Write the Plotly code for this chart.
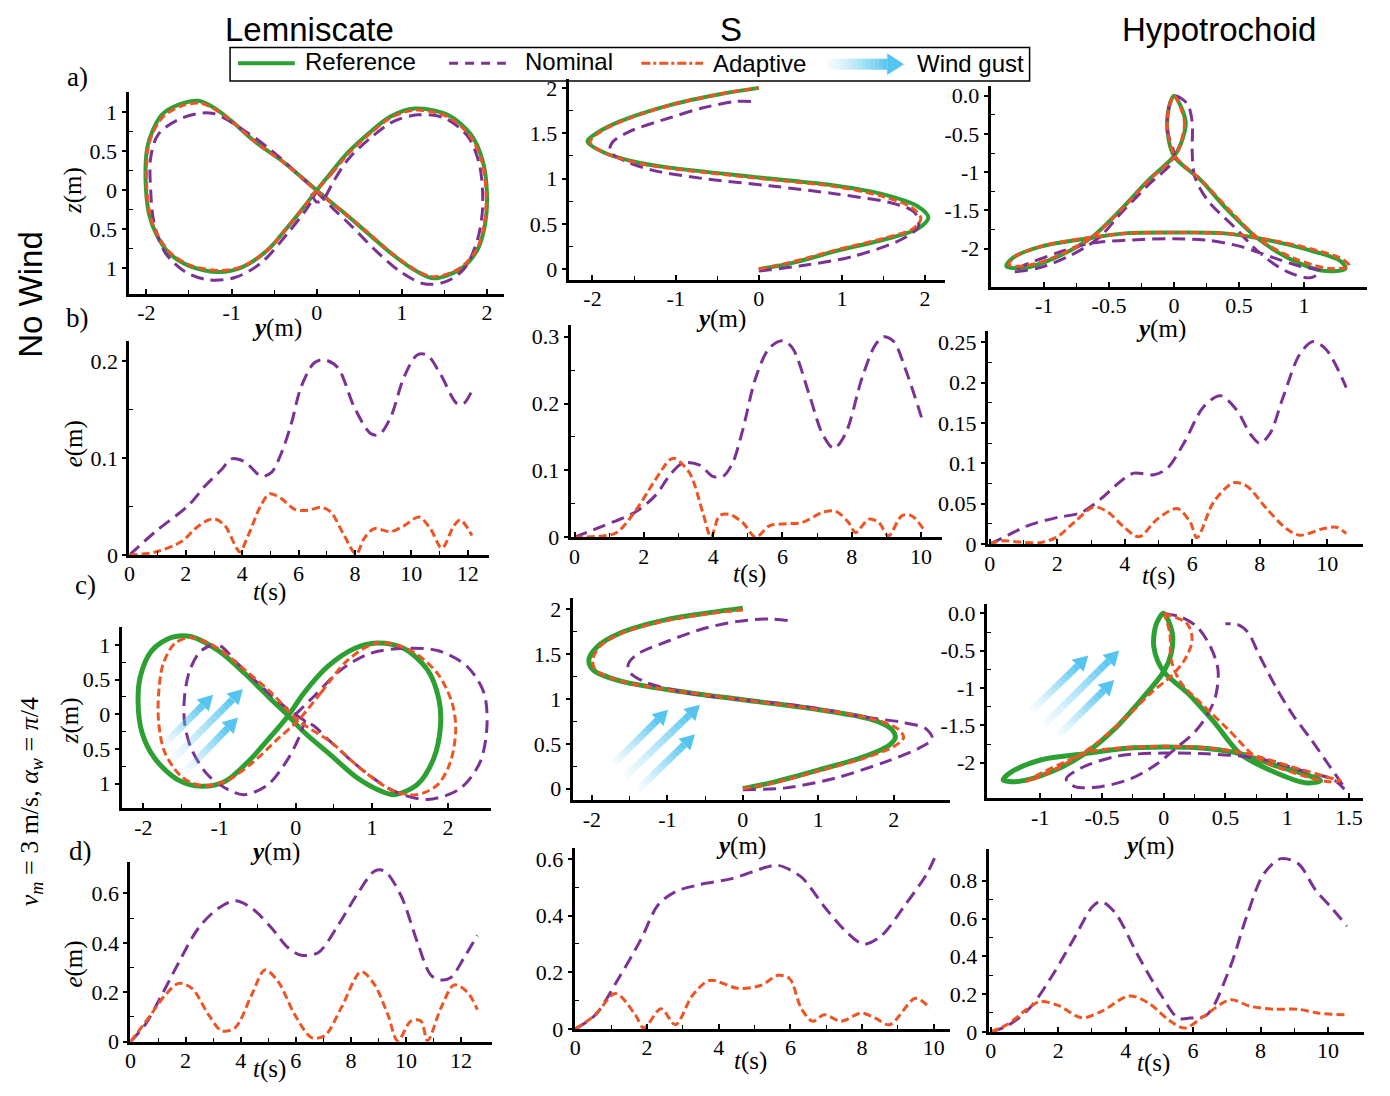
import math
import plotly.graph_objects as go

W, H = 1390, 1096
OFF = 8  # the page body margin shifts the figure by 8 px
SERIF = "Liberation Serif"
SANS = "Liberation Sans"
GREEN = "#2CA033"
PURPLE = "#7B3294"
ORANGE = "#EE5522"
BLUE = "79,195,240"

# ---------------- data : row a (no wind, trajectories y/z in m) ----------------
LEM_A_REF_Y = [0, 0.17, 0.37, 0.64, 0.87, 1.15, 1.54, 1.81, 1.95, 2.0, 1.98, 1.89, 1.69, 1.38, 1.19, 0.91, 0.6, 0.29, 0, -0.18, -0.41, -0.73, -1.0, -1.19, -1.39, -1.62, -1.82, -1.93, -1.99, -2.01, -1.97, -1.89, -1.74, -1.5, -1.15, -0.88, -0.57, -0.34, -0.14, 0]
LEM_A_REF_Z = [0, 0.23, 0.49, 0.76, 0.95, 1.05, 0.97, 0.72, 0.38, -0.04, -0.42, -0.76, -1.01, -1.13, -1.05, -0.84, -0.55, -0.26, 0, 0.17, 0.38, 0.63, 0.89, 1.05, 1.15, 1.1, 0.97, 0.76, 0.55, 0.13, -0.3, -0.55, -0.8, -0.97, -1.05, -0.99, -0.76, -0.47, -0.2, 0]
LEM_A_ADA_Y = [0, 0.18, 0.38, 0.65, 0.88, 1.15, 1.53, 1.8, 1.94, 1.99, 1.97, 1.88, 1.68, 1.38, 1.19, 0.91, 0.61, 0.3, 0.01, -0.17, -0.4, -0.72, -0.99, -1.18, -1.37, -1.6, -1.8, -1.92, -1.98, -2.0, -1.96, -1.88, -1.73, -1.49, -1.15, -0.88, -0.57, -0.34, -0.14, 0]
LEM_A_ADA_Z = [0, 0.22, 0.48, 0.75, 0.94, 1.03, 0.95, 0.7, 0.37, -0.05, -0.43, -0.76, -1.0, -1.11, -1.04, -0.83, -0.55, -0.27, -0.02, 0.16, 0.37, 0.62, 0.88, 1.03, 1.12, 1.08, 0.95, 0.75, 0.54, 0.13, -0.3, -0.55, -0.79, -0.96, -1.03, -0.98, -0.76, -0.47, -0.2, 0]
LEM_A_NOM_Y = [-0.06, 0, 0.08, 0.2, 0.37, 0.64, 0.91, 1.19, 1.5, 1.77, 1.91, 1.95, 1.89, 1.73, 1.5, 1.26, 0.99, 0.68, 0.41, 0.17, 0, -0.22, -0.53, -0.84, -1.23, -1.58, -1.86, -1.95, -1.95, -1.91, -1.78, -1.54, -1.27, -0.96, -0.65, -0.34, -0.1, 0]
LEM_A_NOM_Z = [-0.04, -0.15, -0.11, 0.12, 0.4, 0.68, 0.89, 0.97, 0.93, 0.7, 0.34, -0.2, -0.63, -1.01, -1.18, -1.2, -1.05, -0.76, -0.46, -0.21, -0.02, 0.21, 0.51, 0.76, 0.99, 0.93, 0.72, 0.42, 0, -0.42, -0.8, -1.05, -1.15, -1.12, -0.93, -0.55, -0.21, 0]

S_A_REF_Y = [0, 0.41, 0.93, 1.52, 1.92, 2.04, 1.9, 1.52, 0.93, 0.01, -1.07, -1.47, -1.87, -2.06, -1.95, -1.67, -1.07, -0.47, 0]
S_A_REF_Z = [0, 0.07, 0.2, 0.33, 0.45, 0.57, 0.7, 0.82, 0.92, 1.01, 1.12, 1.18, 1.29, 1.41, 1.5, 1.63, 1.81, 1.93, 2.0]
S_A_ADA_Y = [0, 0.4, 0.92, 1.5, 1.86, 1.95, 1.84, 1.5, 0.93, 0.02, -1.05, -1.45, -1.85, -2.03, -1.93, -1.65, -1.06, -0.47, 0]
S_A_ADA_Z = [0, 0.08, 0.21, 0.34, 0.45, 0.56, 0.68, 0.8, 0.91, 1.0, 1.11, 1.17, 1.28, 1.4, 1.5, 1.63, 1.81, 1.93, 2.0]
S_A_NOM_Y = [0, 0.53, 1.13, 1.72, 1.92, 1.88, 1.64, 0.93, 0.13, -0.67, -1.27, -1.6, -1.79, -1.76, -1.55, -1.07, -0.67, -0.27, -0.09]
S_A_NOM_Z = [-0.02, 0.04, 0.14, 0.33, 0.47, 0.62, 0.72, 0.83, 0.92, 1.0, 1.09, 1.19, 1.3, 1.4, 1.52, 1.67, 1.78, 1.85, 1.85]

HYP_A_REF_Y = [0, 0.09, 0.05, 0, -0.2, -0.41, -0.64, -0.89, -1.15, -1.29, -1.24, -1.02, -0.64, -0.38, 0, 0.39, 0.64, 1.02, 1.28, 1.32, 1.15, 0.9, 0.64, 0.41, 0.21, 0, -0.05, -0.04, 0]
HYP_A_REF_Z = [0, -0.34, -0.64, -0.79, -1.11, -1.49, -1.86, -2.1, -2.25, -2.23, -2.12, -1.97, -1.86, -1.8, -1.79, -1.8, -1.86, -2.01, -2.16, -2.26, -2.29, -2.14, -1.86, -1.49, -1.11, -0.79, -0.46, -0.16, 0]
HYP_A_ADA_Y = [0, 0.08, 0.05, 0.01, -0.19, -0.4, -0.63, -0.88, -1.13, -1.27, -1.22, -1.0, -0.63, -0.37, 0, 0.39, 0.66, 1.05, 1.3, 1.35, 1.2, 0.93, 0.66, 0.43, 0.22, 0.01, -0.05, -0.04, 0]
HYP_A_ADA_Z = [0, -0.33, -0.63, -0.79, -1.1, -1.48, -1.85, -2.08, -2.22, -2.21, -2.1, -1.96, -1.85, -1.8, -1.79, -1.8, -1.86, -2.0, -2.14, -2.23, -2.26, -2.13, -1.88, -1.5, -1.12, -0.79, -0.46, -0.16, 0]
HYP_A_NOM_Y = [0, -0.04, -0.05, 0, -0.2, -0.41, -0.58, -0.81, -1.04, -1.24, -1.17, -0.89, -0.64, -0.25, 0, 0.26, 0.51, 0.77, 0.97, 1.13, 1.05, 0.87, 0.67, 0.46, 0.26, 0.16, 0.14, 0.14, 0.1, 0]
HYP_A_NOM_Z = [0, -0.16, -0.46, -0.82, -1.17, -1.54, -1.86, -2.1, -2.25, -2.3, -2.23, -2.05, -1.93, -1.88, -1.87, -1.89, -1.97, -2.12, -2.23, -2.29, -2.38, -2.3, -2.07, -1.71, -1.37, -1.06, -0.72, -0.34, -0.1, 0]

# ---------------- data : row b (no wind, tracking error e(m) vs t(s)) ----------------
LEM_B_NOM_T = [0, 0.92, 2.09, 2.68, 3.27, 3.62, 4.09, 4.68, 5.04, 5.39, 5.74, 6.09, 6.56, 6.92, 7.39, 7.98, 8.56, 8.86, 9.27, 9.74, 10.21, 10.56, 11.04, 11.62, 11.86, 12.15]
LEM_B_NOM_E = [0, 0.024, 0.051, 0.071, 0.088, 0.099, 0.096, 0.081, 0.085, 0.105, 0.135, 0.173, 0.198, 0.201, 0.193, 0.152, 0.125, 0.124, 0.142, 0.183, 0.206, 0.206, 0.186, 0.156, 0.156, 0.169]
LEM_B_ADA_T = [0, 0.92, 1.86, 2.33, 2.8, 3.04, 3.39, 3.8, 3.92, 4.21, 4.68, 4.98, 5.39, 5.86, 6.33, 6.8, 7.15, 7.62, 8.04, 8.33, 8.68, 9.27, 9.74, 10.27, 10.68, 11.09, 11.51, 11.74, 12.15]
LEM_B_ADA_E = [0, 0.003, 0.014, 0.027, 0.036, 0.037, 0.03, 0.007, 0.003, 0.02, 0.052, 0.063, 0.058, 0.047, 0.046, 0.049, 0.044, 0.02, 0.001, 0.017, 0.027, 0.024, 0.03, 0.039, 0.027, 0.007, 0.03, 0.036, 0.02]

S_B_NOM_T = [0, 0.83, 1.79, 2.36, 2.75, 3.13, 3.61, 3.99, 4.28, 4.56, 4.85, 5.23, 5.62, 6.0, 6.29, 6.77, 7.15, 7.48, 7.82, 8.3, 8.68, 8.92, 9.21, 9.54, 10.07]
S_B_NOM_E = [0, 0.017, 0.039, 0.064, 0.093, 0.111, 0.108, 0.091, 0.091, 0.111, 0.16, 0.239, 0.283, 0.294, 0.283, 0.214, 0.155, 0.133, 0.155, 0.239, 0.288, 0.3, 0.293, 0.253, 0.17]
S_B_ADA_T = [0, 0.83, 1.22, 1.79, 2.27, 2.75, 2.89, 3.32, 3.7, 3.94, 4.18, 4.47, 4.85, 5.23, 5.62, 6.1, 6.57, 7.15, 7.53, 7.91, 8.11, 8.49, 8.78, 9.06, 9.44, 9.73, 10.07]
S_B_ADA_E = [0, 0.002, 0.007, 0.042, 0.081, 0.116, 0.118, 0.096, 0.037, 0.0, 0.032, 0.034, 0.022, 0.0, 0.017, 0.02, 0.022, 0.037, 0.039, 0.022, 0.007, 0.027, 0.022, 0.002, 0.032, 0.032, 0.012]

HYP_B_NOM_T = [0, 0.54, 1.13, 2.0, 2.7, 3.29, 3.88, 4.27, 4.86, 5.26, 5.75, 6.33, 6.83, 7.32, 7.71, 8.0, 8.3, 8.69, 9.18, 9.58, 9.97, 10.56]
HYP_B_NOM_E = [0, 0.011, 0.023, 0.033, 0.039, 0.056, 0.078, 0.088, 0.086, 0.094, 0.125, 0.17, 0.184, 0.166, 0.137, 0.125, 0.137, 0.182, 0.235, 0.251, 0.241, 0.194]
HYP_B_ADA_T = [0, 0.34, 1.03, 1.52, 2.0, 2.5, 3.09, 3.49, 3.98, 4.42, 4.96, 5.55, 5.94, 6.14, 6.63, 7.22, 7.61, 8.2, 8.79, 9.18, 9.87, 10.27, 10.56]
HYP_B_ADA_E = [0, 0.004, 0.002, 0.002, 0.009, 0.027, 0.046, 0.04, 0.021, 0.009, 0.031, 0.044, 0.027, 0.008, 0.052, 0.076, 0.072, 0.044, 0.019, 0.011, 0.019, 0.021, 0.013]

# ---------------- data : row c (wind gust, trajectories) ----------------
LEM_C_REF_Y = [-0.1, 0.11, 0.42, 0.77, 1.07, 1.42, 1.73, 1.88, 1.9, 1.81, 1.59, 1.29, 1.12, 0.81, 0.46, 0.11, -0.1, -0.32, -0.67, -1.02, -1.37, -1.63, -1.89, -2.04, -2.07, -2.02, -1.85, -1.54, -1.24, -0.93, -0.63, -0.32, -0.1]
LEM_C_REF_Z = [-0.02, 0.31, 0.69, 0.95, 1.03, 0.95, 0.64, 0.21, -0.17, -0.64, -1.02, -1.16, -1.11, -0.92, -0.59, -0.26, -0.02, 0.21, 0.59, 0.92, 1.12, 1.11, 0.92, 0.55, 0.17, -0.26, -0.64, -0.95, -1.04, -0.97, -0.69, -0.31, -0.02]
LEM_C_ADA_Y = [0.03, 0.33, 0.68, 1.07, 1.51, 1.86, 2.05, 2.1, 2.03, 1.86, 1.59, 1.29, 0.9, 0.46, 0.03, -0.32, -0.67, -1.02, -1.37, -1.59, -1.74, -1.8, -1.8, -1.72, -1.5, -1.24, -0.93, -0.58, -0.24, 0.03]
LEM_C_ADA_Z = [-0.09, 0.31, 0.78, 1.03, 0.92, 0.59, 0.17, -0.21, -0.69, -1.02, -1.16, -1.11, -0.83, -0.4, -0.09, 0.31, 0.64, 0.95, 1.11, 1.02, 0.73, 0.31, -0.12, -0.55, -0.9, -1.03, -0.97, -0.71, -0.36, -0.09]
LEM_C_NOM_Y = [-0.02, 0.24, 0.59, 0.98, 1.38, 1.86, 2.25, 2.47, 2.51, 2.42, 2.16, 1.73, 1.29, 0.85, 0.46, 0.24, 0.13, -0.1, -0.41, -0.76, -1.02, -1.24, -1.39, -1.46, -1.46, -1.37, -1.15, -0.85, -0.67, -0.37, -0.1, 0.07, 0.12]
LEM_C_NOM_Z = [-0.02, 0.26, 0.64, 0.88, 0.95, 0.92, 0.69, 0.31, -0.17, -0.69, -1.07, -1.23, -1.11, -0.78, -0.4, -0.17, -0.1, 0.07, 0.36, 0.73, 1.0, 0.92, 0.64, 0.26, -0.12, -0.5, -0.88, -1.11, -1.16, -1.02, -0.64, -0.26, -0.08]

S_C_REF_Y = [0, 0.44, 1.01, 1.58, 1.93, 2.02, 1.96, 1.67, 1.01, 0, -0.97, -1.63, -1.98, -2.04, -1.93, -1.63, -0.97, -0.44, 0]
S_C_REF_Z = [0, 0.08, 0.21, 0.35, 0.48, 0.57, 0.67, 0.78, 0.88, 0.99, 1.1, 1.2, 1.32, 1.43, 1.58, 1.73, 1.89, 1.96, 2.01]
S_C_ADA_Y = [0, 0.44, 1.01, 1.6, 2.0, 2.13, 2.05, 1.7, 1.02, 0, -0.97, -1.62, -1.95, -1.99, -1.9, -1.61, -0.96, -0.44, 0]
S_C_ADA_Z = [0, 0.07, 0.2, 0.34, 0.47, 0.57, 0.67, 0.78, 0.88, 0.99, 1.1, 1.2, 1.32, 1.43, 1.58, 1.73, 1.88, 1.95, 1.99]
S_C_NOM_Y = [0, 0.57, 1.23, 1.89, 2.33, 2.51, 2.42, 2.11, 1.67, 0.79, 0, -0.75, -1.27, -1.49, -1.52, -1.41, -0.97, -0.53, -0.09, 0.35, 0.62]
S_C_NOM_Z = [-0.01, 0.01, 0.12, 0.3, 0.45, 0.56, 0.67, 0.74, 0.79, 0.92, 0.99, 1.07, 1.18, 1.29, 1.38, 1.49, 1.65, 1.78, 1.86, 1.89, 1.87]

HYP_C_REF_Y = [0, 0.07, 0.06, 0, -0.18, -0.4, -0.64, -0.91, -1.18, -1.3, -1.23, -0.99, -0.64, -0.32, 0, 0.35, 0.62, 0.89, 1.16, 1.27, 1.16, 0.89, 0.62, 0.41, 0.19, 0, -0.08, -0.06, 0]
HYP_C_REF_Z = [0, -0.27, -0.54, -0.78, -1.15, -1.55, -1.88, -2.12, -2.25, -2.23, -2.12, -1.96, -1.88, -1.81, -1.79, -1.81, -1.88, -2.03, -2.16, -2.24, -2.27, -2.12, -1.88, -1.46, -1.06, -0.78, -0.45, -0.14, 0]
HYP_C_ADA_Y = [0, 0.19, 0.23, 0.17, 0.06, -0.1, -0.29, -0.53, -0.72, -0.94, -1.11, -1.04, -0.83, -0.59, -0.32, 0, 0.35, 0.68, 1.03, 1.32, 1.43, 1.32, 1.03, 0.76, 0.52, 0.3, 0.14, 0.06, 0.05, 0.01]
HYP_C_ADA_Z = [0, -0.14, -0.36, -0.62, -0.84, -1.06, -1.37, -1.72, -1.94, -2.14, -2.25, -2.18, -2.01, -1.85, -1.8, -1.78, -1.8, -1.88, -2.05, -2.19, -2.24, -2.25, -2.12, -1.94, -1.55, -1.2, -0.93, -0.62, -0.27, -0.03]
HYP_C_NOM_Y = [0, 0.14, 0.27, 0.38, 0.44, 0.42, 0.35, 0.25, 0.11, -0.05, -0.26, -0.51, -0.72, -0.79, -0.67, -0.37, -0.01, 0.35, 0.76, 1.11, 1.38, 1.47, 1.32, 1.19, 1.05, 0.92, 0.78, 0.68, 0.6, 0.5]
HYP_C_NOM_Z = [0, -0.05, -0.18, -0.45, -0.76, -1.11, -1.37, -1.59, -1.79, -2.01, -2.21, -2.32, -2.32, -2.22, -2.07, -1.91, -1.87, -1.88, -1.94, -2.1, -2.23, -2.36, -1.99, -1.68, -1.37, -1.02, -0.58, -0.25, -0.15, -0.14]

# ---------------- data : row d (wind gust, tracking error) ----------------
LEM_D_NOM_T = [0, 0.54, 1.14, 1.75, 2.47, 3.19, 3.8, 4.4, 5.12, 5.72, 6.2, 6.81, 7.53, 8.25, 8.86, 9.22, 9.82, 10.42, 10.9, 11.27, 11.63, 12.11, 12.59]
LEM_D_NOM_E = [0, 0.07, 0.19, 0.32, 0.46, 0.54, 0.57, 0.54, 0.46, 0.38, 0.35, 0.36, 0.47, 0.6, 0.69, 0.69, 0.59, 0.4, 0.27, 0.25, 0.26, 0.34, 0.43]
LEM_D_ADA_T = [0, 0.66, 1.27, 1.75, 2.23, 2.83, 3.31, 3.8, 4.4, 4.88, 5.36, 5.96, 6.57, 7.05, 7.65, 8.37, 8.86, 9.34, 9.7, 10.18, 10.54, 10.78, 11.27, 11.75, 12.23, 12.59]
LEM_D_ADA_E = [0, 0.097, 0.19, 0.236, 0.216, 0.11, 0.044, 0.057, 0.19, 0.29, 0.243, 0.11, 0.017, 0.024, 0.137, 0.283, 0.23, 0.11, 0.004, 0.084, 0.084, 0.004, 0.137, 0.23, 0.2, 0.13]

S_D_NOM_T = [0, 0.56, 1.2, 1.83, 2.31, 2.79, 3.43, 4.39, 5.34, 5.66, 6.3, 6.94, 7.58, 8.05, 8.53, 9.17, 9.81, 10.05]
S_D_NOM_E = [0, 0.05, 0.177, 0.316, 0.438, 0.484, 0.508, 0.531, 0.571, 0.577, 0.536, 0.432, 0.34, 0.299, 0.328, 0.432, 0.548, 0.612]
S_D_ADA_T = [0, 0.56, 1.12, 1.67, 1.91, 2.39, 2.79, 3.27, 3.75, 4.55, 5.18, 5.66, 5.98, 6.3, 6.62, 6.94, 7.42, 7.97, 8.37, 8.77, 9.49, 9.89]
S_D_ADA_E = [0, 0.05, 0.125, 0.05, 0.003, 0.071, 0.015, 0.119, 0.171, 0.143, 0.154, 0.189, 0.177, 0.073, 0.027, 0.05, 0.027, 0.056, 0.038, 0.015, 0.108, 0.073]

HYP_D_NOM_T = [0, 0.47, 1.15, 1.83, 2.51, 3.02, 3.27, 3.69, 4.37, 5.05, 5.56, 5.9, 6.41, 7.08, 7.59, 8.1, 8.61, 9.12, 9.63, 10.14, 10.56]
HYP_D_NOM_E = [0, 0.03, 0.125, 0.3, 0.508, 0.664, 0.69, 0.63, 0.403, 0.195, 0.073, 0.073, 0.09, 0.334, 0.612, 0.838, 0.917, 0.89, 0.751, 0.65, 0.56]
HYP_D_ADA_T = [0, 0.5, 1.0, 1.45, 2.0, 2.7, 3.3, 4.1, 4.7, 5.3, 5.75, 6.3, 7.1, 7.7, 8.4, 9.1, 9.7, 10.5]
HYP_D_ADA_E = [0, 0.04, 0.11, 0.16, 0.14, 0.075, 0.11, 0.19, 0.15, 0.06, 0.02, 0.08, 0.17, 0.135, 0.12, 0.12, 0.1, 0.09]

# ---------------- tick labels ----------------
LEM_Y_TICKS = [-2, -1, 0, 1, 2]
LEM_Z_TICKS = [1, 0.5, 0, -0.5, -1]
LEM_Z_LABELS = ["1", "0.5", "0", "0.5", "1"]
S_Y_TICKS = [-2, -1, 0, 1, 2]
S_Z_TICKS = [0, 0.5, 1, 1.5, 2]
HYP_A_Y_TICKS = [-1, -0.5, 0, 0.5, 1]
HYP_C_Y_TICKS = [-1, -0.5, 0, 0.5, 1, 1.5]
HYP_Z_TICKS = [0, -0.5, -1, -1.5, -2]
HYP_Z_LABELS = ["0.0", "-0.5", "-1", "-1.5", "-2"]
T12_TICKS = [0, 2, 4, 6, 8, 10, 12]
T10_TICKS = [0, 2, 4, 6, 8, 10]
LEM_B_E_TICKS = [0, 0.1, 0.2]
S_B_E_TICKS = [0, 0.1, 0.2, 0.3]
HYP_B_E_TICKS = [0, 0.05, 0.1, 0.15, 0.2, 0.25]
D_E_TICKS = [0, 0.2, 0.4, 0.6]
HYP_D_E_TICKS = [0, 0.2, 0.4, 0.6, 0.8]


def fmt(v):
    return "%g" % v


def mids(t):
    s = sorted(t)
    return [(a + b) / 2 for a, b in zip(s[:-1], s[1:])]


# panel layout: x-axis pixel span, pixel of data-zero, px/unit ; y likewise
PANELS = [
    dict(xp=(123, 500, 312, 85.5), yp=(295, 90, 190, 79), xt=LEM_Y_TICKS, yt=LEM_Z_TICKS, yl=LEM_Z_LABELS,
         curves=[(LEM_A_REF_Y, LEM_A_REF_Z, "ref"), (LEM_A_NOM_Y, LEM_A_NOM_Z, "nom"), (LEM_A_ADA_Y, LEM_A_ADA_Z, "ada")]),
    dict(xp=(565, 943, 756, 83.5), yp=(281, 77, 270, 92), xt=S_Y_TICKS, yt=S_Z_TICKS,
         curves=[(S_A_REF_Y, S_A_REF_Z, "ref"), (S_A_NOM_Y, S_A_NOM_Z, "nom"), (S_A_ADA_Y, S_A_ADA_Z, "ada")]),
    dict(xp=(989, 1367, 1173, 130.5), yp=(288, 84, 94, 77.6), xt=HYP_A_Y_TICKS, yt=HYP_Z_TICKS, yl=HYP_Z_LABELS,
         curves=[(HYP_A_REF_Y, HYP_A_REF_Z, "ref"), (HYP_A_NOM_Y, HYP_A_NOM_Z, "nom"), (HYP_A_ADA_Y, HYP_A_ADA_Z, "ada")]),
    dict(xp=(124, 485, 124, 28.3), yp=(560, 343, 560, 985), xt=T12_TICKS, yt=LEM_B_E_TICKS,
         curves=[(LEM_B_NOM_T, LEM_B_NOM_E, "nom"), (LEM_B_ADA_T, LEM_B_ADA_E, "ada")]),
    dict(xp=(567, 940, 571, 34.8), yp=(542, 327, 542, 678), xt=T10_TICKS, yt=S_B_E_TICKS,
         curves=[(S_B_NOM_T, S_B_NOM_E, "nom"), (S_B_ADA_T, S_B_ADA_E, "ada")]),
    dict(xp=(986, 1363, 988, 33.9), yp=(549, 333, 549, 818.7), xt=T10_TICKS, yt=HYP_B_E_TICKS,
         curves=[(HYP_B_NOM_T, HYP_B_NOM_E, "nom"), (HYP_B_ADA_T, HYP_B_ADA_E, "ada")]),
    dict(xp=(116, 487, 291, 76.5), yp=(817, 633, 721.7, 70.3), xt=LEM_Y_TICKS, yt=LEM_Z_TICKS, yl=LEM_Z_LABELS,
         curves=[(LEM_C_REF_Y, LEM_C_REF_Z, "refc"), (LEM_C_NOM_Y, LEM_C_NOM_Z, "nom"), (LEM_C_ADA_Y, LEM_C_ADA_Z, "ada")]),
    dict(xp=(569, 948, 740, 75.8), yp=(809, 604, 797.3, 91.2), xt=S_Y_TICKS, yt=S_Z_TICKS,
         curves=[(S_C_REF_Y, S_C_REF_Z, "refc"), (S_C_NOM_Y, S_C_NOM_Z, "nom"), (S_C_ADA_Y, S_C_ADA_Z, "ada")]),
    dict(xp=(985, 1363, 1162.7, 124), yp=(807, 610, 619.3, 75.8), xt=HYP_C_Y_TICKS, yt=HYP_Z_TICKS, yl=HYP_Z_LABELS,
         curves=[(HYP_C_REF_Y, HYP_C_REF_Z, "refc"), (HYP_C_NOM_Y, HYP_C_NOM_Z, "nom"), (HYP_C_ADA_Y, HYP_C_ADA_Z, "ada")]),
    dict(xp=(125, 488, 125, 27.67), yp=(1054, 872, 1054, 251), xt=T12_TICKS, yt=D_E_TICKS,
         curves=[(LEM_D_NOM_T, LEM_D_NOM_E, "nom"), (LEM_D_ADA_T, LEM_D_ADA_E, "ada")]),
    dict(xp=(571, 948, 571.8, 36.0), yp=(1041, 857, 1041, 287.7), xt=T10_TICKS, yt=D_E_TICKS,
         curves=[(S_D_NOM_T, S_D_NOM_E, "nom"), (S_D_ADA_T, S_D_ADA_E, "ada")]),
    dict(xp=(987, 1364, 989, 33.87), yp=(1044, 858, 1044, 191.7), xt=T10_TICKS, yt=HYP_D_E_TICKS,
         curves=[(HYP_D_NOM_T, HYP_D_NOM_E, "nom"), (HYP_D_ADA_T, HYP_D_ADA_E, "ada")]),
]

STYLE = {
    "ref": dict(color=GREEN, width=4, dash="solid"),
    "refc": dict(color=GREEN, width=5, dash="solid"),
    "nom": dict(color=PURPLE, width=3, dash="13px,7px"),
    "ada": dict(color=ORANGE, width=3, dash="8px,4px"),
}

fig = go.Figure()
layout = dict(width=W, height=H, margin=dict(l=0, r=0, t=0, b=0), autosize=False,
              paper_bgcolor="white", plot_bgcolor="white", showlegend=False)

tickfont = dict(family=SERIF, size=22, color="black")
for i, p in enumerate(PANELS, start=1):
    xl, xr, x0, xs = p["xp"]
    yb, yt, y0, ys = p["yp"]
    xname = "xaxis" if i == 1 else "xaxis%d" % i
    yname = "yaxis" if i == 1 else "yaxis%d" % i
    xa = "x" if i == 1 else "x%d" % i
    ya = "y" if i == 1 else "y%d" % i
    layout[xname] = dict(domain=[(xl - OFF) / W, (xr - OFF) / W], range=[(xl - x0) / xs, (xr - x0) / xs], anchor=ya,
                         showline=True, linecolor="black", linewidth=3, showgrid=False, zeroline=False,
                         ticks="inside", ticklen=5, tickwidth=1.5, tickcolor="black", ticklabelstandoff=-3,
                         minor=dict(tickvals=mids(p["xt"]), ticks="inside", ticklen=4, tickwidth=1, tickcolor="black"),
                         tickvals=p["xt"], ticktext=[fmt(v) for v in p["xt"]], tickfont=tickfont, fixedrange=True)
    layout[yname] = dict(domain=[1 - (yb - OFF) / H, 1 - (yt - OFF) / H], range=[(y0 - yb) / ys, (y0 - yt) / ys],
                         anchor=xa, showline=True, linecolor="black", linewidth=3, showgrid=False, zeroline=False,
                         ticks="outside", ticklen=4, tickwidth=1.5, tickcolor="black",
                         minor=dict(tickvals=mids(p["yt"]), ticks="inside", ticklen=4, tickwidth=1, tickcolor="black"),
                         tickvals=p["yt"], ticktext=p.get("yl", [fmt(v) for v in p["yt"]]), tickfont=tickfont,
                         fixedrange=True)
    for xs_, ys_, kind in p["curves"]:
        st = STYLE[kind]
        fig.add_trace(go.Scatter(x=xs_, y=ys_, mode="lines", xaxis=xa, yaxis=ya, hoverinfo="skip",
                                 line=dict(color=st["color"], width=st["width"], dash=st["dash"],
                                           shape="spline", smoothing=0.9)))


def P(x, y):
    return (x - OFF) / W, 1 - (y - OFF) / H


annotations = []


def ann(x, y, text, size, family=SERIF, angle=0, xanchor="center"):
    ax, ay = P(x, y)
    annotations.append(dict(x=ax, y=ay, xref="paper", yref="paper", text=text, showarrow=False,
                            font=dict(family=family, size=size, color="black"), textangle=angle,
                            xanchor=xanchor, yanchor="middle"))


# column titles, row labels
ann(305, 27, "Lemniscate", 33, SANS)
ann(728, 27, "S", 33, SANS)
ann(1218, 27, "Hypotrochoid", 33, SANS)
ann(25, 295, "No Wind", 33, SANS, angle=-90)
ann(25, 810, "<i>v</i><sub><i>m</i></sub> = 3 m/s, <i>α</i><sub><i>w</i></sub> = <i>π</i>/4", 26, SERIF, angle=-90)
for txt, x, y in [("a)", 72, 75), ("b)", 72, 320), ("c)", 80, 590), ("d)", 75, 860)]:
    ann(x, y, txt, 27)

YM = "<b><i>y</i></b>(m)"
ZM = "<i>z</i>(m)"
EM = "<i>e</i>(m)"
TS = "<i>t</i>(s)"
for x, y in [(272, 330), (718, 321), (1160, 331), (270, 861), (738, 855), (1148, 855)]:
    ann(x, y, YM, 25)
for x, y in [(265, 598), (747, 579), (1157, 581), (265, 1082), (748, 1074), (1152, 1076)]:
    ann(x, y, TS, 25)
ann(68, 190, ZM, 25, angle=-90)
ann(65, 728, ZM, 25, angle=-90)
ann(68, 447, EM, 25, angle=-90)
ann(68, 975, EM, 25, angle=-90)

shapes = []


def gust(x0, y0, x1, y1, body=7, head_w=17, head_l=15, n=14):
    dx, dy = x1 - x0, y1 - y0
    L = math.hypot(dx, dy)
    ux, uy = dx / L, dy / L
    bx, by = x1 - ux * head_l, y1 - uy * head_l
    for k in range(n):
        a0, a1 = k / n, (k + 1) / n
        sx, sy = x0 + (bx - x0) * a0, y0 + (by - y0) * a0
        ex, ey = x0 + (bx - x0) * a1, y0 + (by - y0) * a1
        alpha = 0.06 + 0.9 * ((k + 0.5) / n) ** 1.3
        (px0, py0), (px1, py1) = P(sx, sy), P(ex, ey)
        shapes.append(dict(type="line", xref="paper", yref="paper", x0=px0, y0=py0, x1=px1, y1=py1,
                           line=dict(color="rgba(%s,%.2f)" % (BLUE, alpha), width=body)))
    nx, ny = -uy, ux
    pts = [(x1, y1), (bx + nx * head_w / 2, by + ny * head_w / 2), (bx - nx * head_w / 2, by - ny * head_w / 2)]
    pp = [P(a, b) for a, b in pts]
    path = "M %f %f L %f %f L %f %f Z" % (pp[0][0], pp[0][1], pp[1][0], pp[1][1], pp[2][0], pp[2][1])
    shapes.append(dict(type="path", xref="paper", yref="paper", path=path,
                       fillcolor="rgba(%s,0.97)" % BLUE, line=dict(width=0)))


for (a, b, c, d) in [(158, 753, 208, 702), (167, 768, 238, 696), (180, 780, 233, 725),
                     (610, 772, 665, 717), (622, 785, 697, 712), (635, 798, 692, 742),
                     (1030, 718, 1087, 662), (1043, 732, 1118, 657), (1057, 743, 1113, 687)]:
    gust(a, b, c, d)

# legend box
bx0, by0 = P(225, 45)
bx1, by1 = P(1028, 79)
shapes.append(dict(type="rect", xref="paper", yref="paper", x0=bx0, y0=by1, x1=bx1, y1=by0,
                   line=dict(color="black", width=1.5), fillcolor="rgba(0,0,0,0)"))


def lline(xa_, xb_, y, color, width, dash):
    (p0x, p0y), (p1x, p1y) = P(xa_, y), P(xb_, y)
    shapes.append(dict(type="line", xref="paper", yref="paper", x0=p0x, y0=p0y, x1=p1x, y1=p1y,
                       line=dict(color=color, width=width, dash=dash)))


lline(233, 290, 61, GREEN, 4, "solid")
lline(445, 502, 61, PURPLE, 3, "9px,7px")
lline(638, 700, 61, ORANGE, 3, "dashdot")
gust(825, 62, 902, 62, body=11, head_w=22, head_l=17, n=14)
ann(298, 59, "Reference", 24, SANS, xanchor="left")
ann(519, 59, "Nominal", 24, SANS, xanchor="left")
ann(708, 61, "Adaptive", 24, SANS, xanchor="left")
ann(913, 61, "Wind gust", 24, SANS, xanchor="left")

layout["annotations"] = annotations
layout["shapes"] = shapes
fig.update_layout(**layout)
fig.write_html("out.html")
